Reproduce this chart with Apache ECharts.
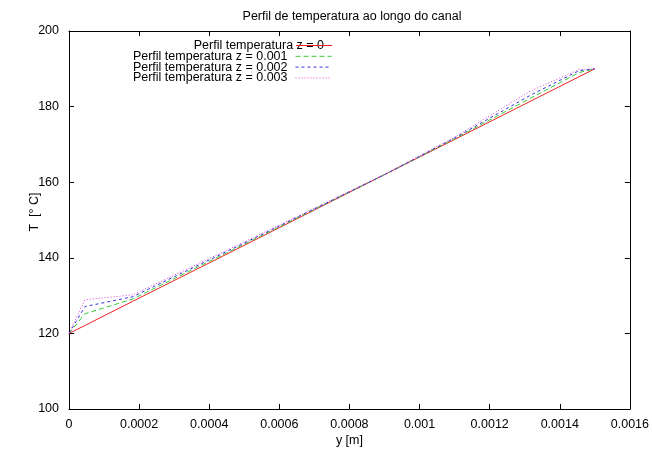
<!DOCTYPE html>
<html>
<head>
<meta charset="utf-8">
<script src="https://cdn.jsdelivr.net/npm/echarts@6/dist/echarts.min.js"></script>
<style>html,body{margin:0;padding:0;background:#fff}#c{width:652px;height:452px}</style>
</head>
<body>
<div id="c"></div>
<script>
const yPos = [0, 0.0000455, 0.000182, 0.0005, 0.0009, 0.0011, 0.001318, 0.001455, 0.0015];
const tZ0    = [120, 122.1, 128.5, 143.3, 162.0, 171.3, 181.5, 187.9, 190];
const tZ0001 = [120, 125.2, 129.1, 143.6, 162.0, 171.5, 182.3, 189.0, 190];
const tZ0002 = [120, 127.1, 129.7, 143.9, 162.0, 171.7, 183.1, 189.5, 190];
const tZ0003 = [120, 128.9, 130.2, 144.2, 162.1, 171.9, 184.2, 189.8, 190];
const seriesNames = ['Perfil temperatura z = 0', 'Perfil temperatura z = 0.001', 'Perfil temperatura z = 0.002', 'Perfil temperatura z = 0.003'];
const seriesData = [tZ0, tZ0001, tZ0002, tZ0003];
const xTicks = { min: 0, max: 0.0016, interval: 0.0002 };
const yTicks = { min: 100, max: 200, interval: 20 };

const colors = ['#ee2222', '#33cc33', '#3333dd', '#dd44dd'];
const dashes = [null, [5, 3], [3, 3], [1, 2]];
const font = 'Liberation Sans, Arial, sans-serif';

const chart = echarts.init(document.getElementById('c'), null, { renderer: 'canvas' });
const fmt = v => parseFloat(Number(v).toPrecision(6)).toString();

const axisCommon = {
  axisLine: { show: true, onZero: false, lineStyle: { color: '#000', width: 1 } },
  axisTick: { show: true, inside: true, length: 5, lineStyle: { color: '#000' } },
  splitLine: { show: false }
};

function lineStyleOf(i) {
  const s = { width: 1, color: colors[i], opacity: 1 };
  if (dashes[i]) s.type = dashes[i];
  return s;
}

const legendRight = 320, legendTop = 39, legendRow = 10.8;

const legends = seriesNames.map((n, i) => {
  const item = dashes[i]
    ? { name: n, itemStyle: { color: 'rgba(0,0,0,0)', borderWidth: 0 }, lineStyle: lineStyleOf(i) }
    : { name: n, icon: 'none', itemStyle: { opacity: 0 }, lineStyle: { opacity: 0 } };
  return {
    data: [item],
    right: legendRight,
    top: legendTop + i * legendRow,
    align: 'right',
    itemWidth: 36,
    itemHeight: 8,
    itemGap: 0,
    padding: 0,
    textStyle: { fontFamily: font, fontSize: 12.5, color: '#000', padding: [0, 3, 0, 0] },
    selectedMode: false
  };
});

chart.setOption({
  animation: false,
  title: {
    text: 'Perfil de temperatura ao longo do canal',
    left: 347, top: 5, textAlign: 'center',
    textStyle: { fontFamily: font, fontSize: 12.5, fontWeight: 'normal', color: '#000' }
  },
  legend: legends,
  graphic: [{
    type: 'rect',
    right: legendRight,
    top: 45,
    z: 100,
    silent: true,
    shape: { width: 36, height: 1 },
    style: { fill: colors[0] }
  }],
  grid: { left: 69, right: 19, top: 31, bottom: 43, containLabel: false },
  xAxis: [
    Object.assign({}, axisCommon, {
      type: 'value', position: 'bottom', min: xTicks.min, max: xTicks.max, interval: xTicks.interval,
      name: 'y [m]', nameLocation: 'middle', nameGap: 25, nameMoveOverlap: false,
      nameTextStyle: { fontFamily: font, fontSize: 12.5, color: '#000' },
      axisLabel: { formatter: fmt, fontFamily: font, fontSize: 12.5, color: '#000', margin: 9 }
    }),
    Object.assign({}, axisCommon, {
      type: 'value', position: 'top', min: xTicks.min, max: xTicks.max, interval: xTicks.interval,
      axisLabel: { show: false }
    })
  ],
  yAxis: [
    Object.assign({}, axisCommon, {
      type: 'value', position: 'left', min: yTicks.min, max: yTicks.max, interval: yTicks.interval,
      name: 'T  [° C]', nameLocation: 'middle', nameGap: 28, nameRotate: 90, nameMoveOverlap: false,
      nameTextStyle: { fontFamily: font, fontSize: 12.5, color: '#000', padding: [0, 0, 0, 16] },
      axisLabel: { fontFamily: font, fontSize: 12.5, color: '#000', margin: 10 }
    }),
    Object.assign({}, axisCommon, {
      type: 'value', position: 'right', min: yTicks.min, max: yTicks.max, interval: yTicks.interval,
      axisLabel: { show: false }
    })
  ],
  series: seriesNames.map((n, i) => ({
    name: n,
    type: 'line',
    xAxisIndex: 0,
    yAxisIndex: 0,
    symbol: 'none',
    color: colors[i],
    lineStyle: lineStyleOf(i),
    data: yPos.map((x, k) => [x, seriesData[i][k]]),
    z: 2 + i
  }))
});
</script>
</body>
</html>
